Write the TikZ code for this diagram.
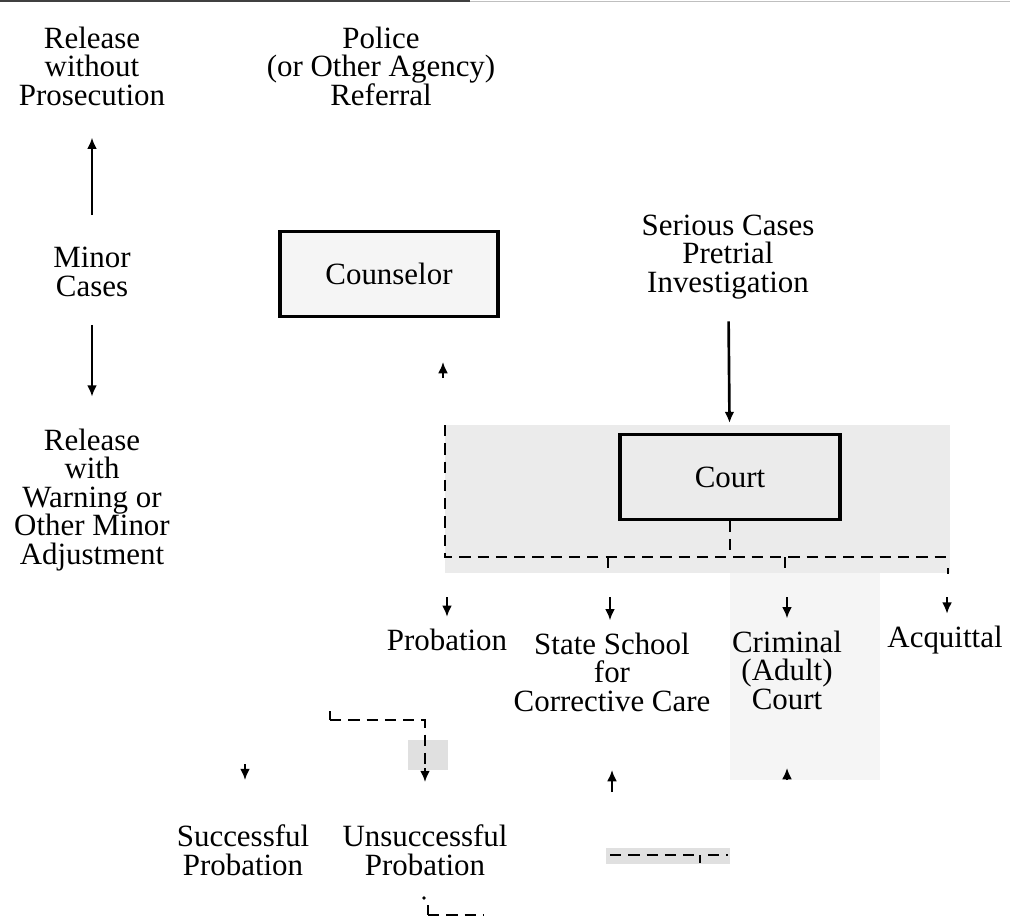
\documentclass[tikz,border=0pt]{standalone}
\usepackage{fontspec}
\setmainfont{Liberation Serif}
\usepackage{tikz}
\usetikzlibrary{arrows.meta}

\tikzset{
  lbl/.style={align=center, inner sep=0pt, font=\fontsize{22}{20.3}\selectfont},
  box/.style={draw, line width=2.2pt, inner sep=0pt, font=\fontsize{22}{20.3}\selectfont},
  arr/.style={line width=1.4pt, -{Latex[length=8pt,width=7pt]}},
  dsh/.style={line width=1.7pt, dash pattern=on 8pt off 5pt},
  tick/.style={line width=1.7pt},
}

\begin{document}
\begin{tikzpicture}[x=0.025cm, y=-0.025cm]
	\useasboundingbox (0,0) rectangle (1010,918);
	% shaded screens
	\fill[black!8] (445,425) rectangle (950,573);
	\fill[black!4] (730,573) rectangle (880,780);
	\fill[black!12] (408,740) rectangle (448,770);
	\fill[black!12] (606,848) rectangle (730,864);
	% rule at top
	\draw[black!75, line width=1pt] (0,1) -- (470,1);
	\draw[black!25, line width=0.6pt] (470,1) -- (1010,1);

	% texts
	\node[lbl] (relwo) at (92,66) {Release\\without\\Prosecution};
	\node[lbl] (police) at (381,66) {Police\\(or Other Agency)\\Referral};
	\node[lbl] (minor) at (92,272) {Minor\\Cases};
	\node[lbl] (relw) at (92,500) {Release\\with\\Warning or\\Other Minor\\Adjustment};
	\node[lbl] (serious) at (728,257) {Serious Cases\\Pretrial\\Investigation};
	\node[lbl] (prob) at (447,640) {Probation};
	\node[lbl] (school) at (612,672) {State School\\for\\Corrective Care};
	\node[lbl] (crim) at (787,670) {Criminal\\(Adult)\\Court};
	\node[lbl] (acq) at (945,640) {Acquittal};
	\node[lbl] (succ) at (243,850) {Successful\\Probation};
	\node[lbl] (unsucc) at (425,850) {Unsuccessful\\Probation};

	% boxes
	\node[box, fill=black!4, minimum width=5.45cm, minimum height=2.13cm] (couns) at (389,274) {Counselor};
	\node[box, minimum width=5.5cm, minimum height=2.12cm] (court) at (730,477) {Court};

	% arrows
	\draw[arr, shorten <=0.8cm, shorten >=0.8cm] (minor) -- (relwo);
	\draw[arr, shorten <=0.7cm, shorten >=0.8cm] (minor) -- (relw);
	\draw[arr, line width=1.9pt, shorten <=0.55cm, shorten >=0.25cm] (serious) -- (court);

	% dashed lines below court
	\coordinate (dtop) at (445,425);
	\coordinate (dcorner) at (445,557);
	\coordinate (dend) at (948,557);
	\draw[dsh] (dtop) -- (dcorner) -- (dend);
	\draw[dsh] (court.south) -- (court.south |- dcorner);
	\draw[tick] (608,557) -- (608,568);
	\draw[tick] (785,557) -- (785,568);
	\draw[tick] (948,568) -- (948,574);

	% arrows to outcomes
	\foreach \nm/\xx in {prob/447, school/610, crim/787, acq/947} {
		\coordinate (\nm-a) at (\xx,597);
		\draw[arr, shorten >=0.3cm] (\nm-a) -- (\nm-a |- \nm.north);
	}

	% loose arrows
	\coordinate (cu-a) at (443,378);
	\draw[arr] (cu-a) -- (443,362);
	\coordinate (sc-a) at (612,792);
	\draw[arr] (sc-a) -- (612,770);
	\coordinate (cr-a) at (787,780);
	\draw[arr] (cr-a) -- (787,768);

	% probation outcomes
	\coordinate (pl) at (330,720);
	\coordinate (pr) at (425,720);
	\coordinate (pu) at (425,782);
	\draw[tick] (330,711) -- (pl);
	\draw[dsh] (pl) -- (pr) -- (425,768);
	\draw[arr] (425,768) -- (pu);
	\coordinate (su-a) at (245,764);
	\coordinate (su-b) at (245,780);
	\draw[arr] (su-a) -- (su-b);

	% fragments at bottom
	\fill (424,898) circle (1.4pt);
	\draw[tick] (428,905) -- (428,915);
	\draw[dsh] (428,915) -- (484,915);
	\draw[dsh] (610,855) -- (700,855);
	\draw[tick] (700,855) -- (700,863);
	\draw[dsh] (708,855) -- (728,855);
\end{tikzpicture}
\end{document}
